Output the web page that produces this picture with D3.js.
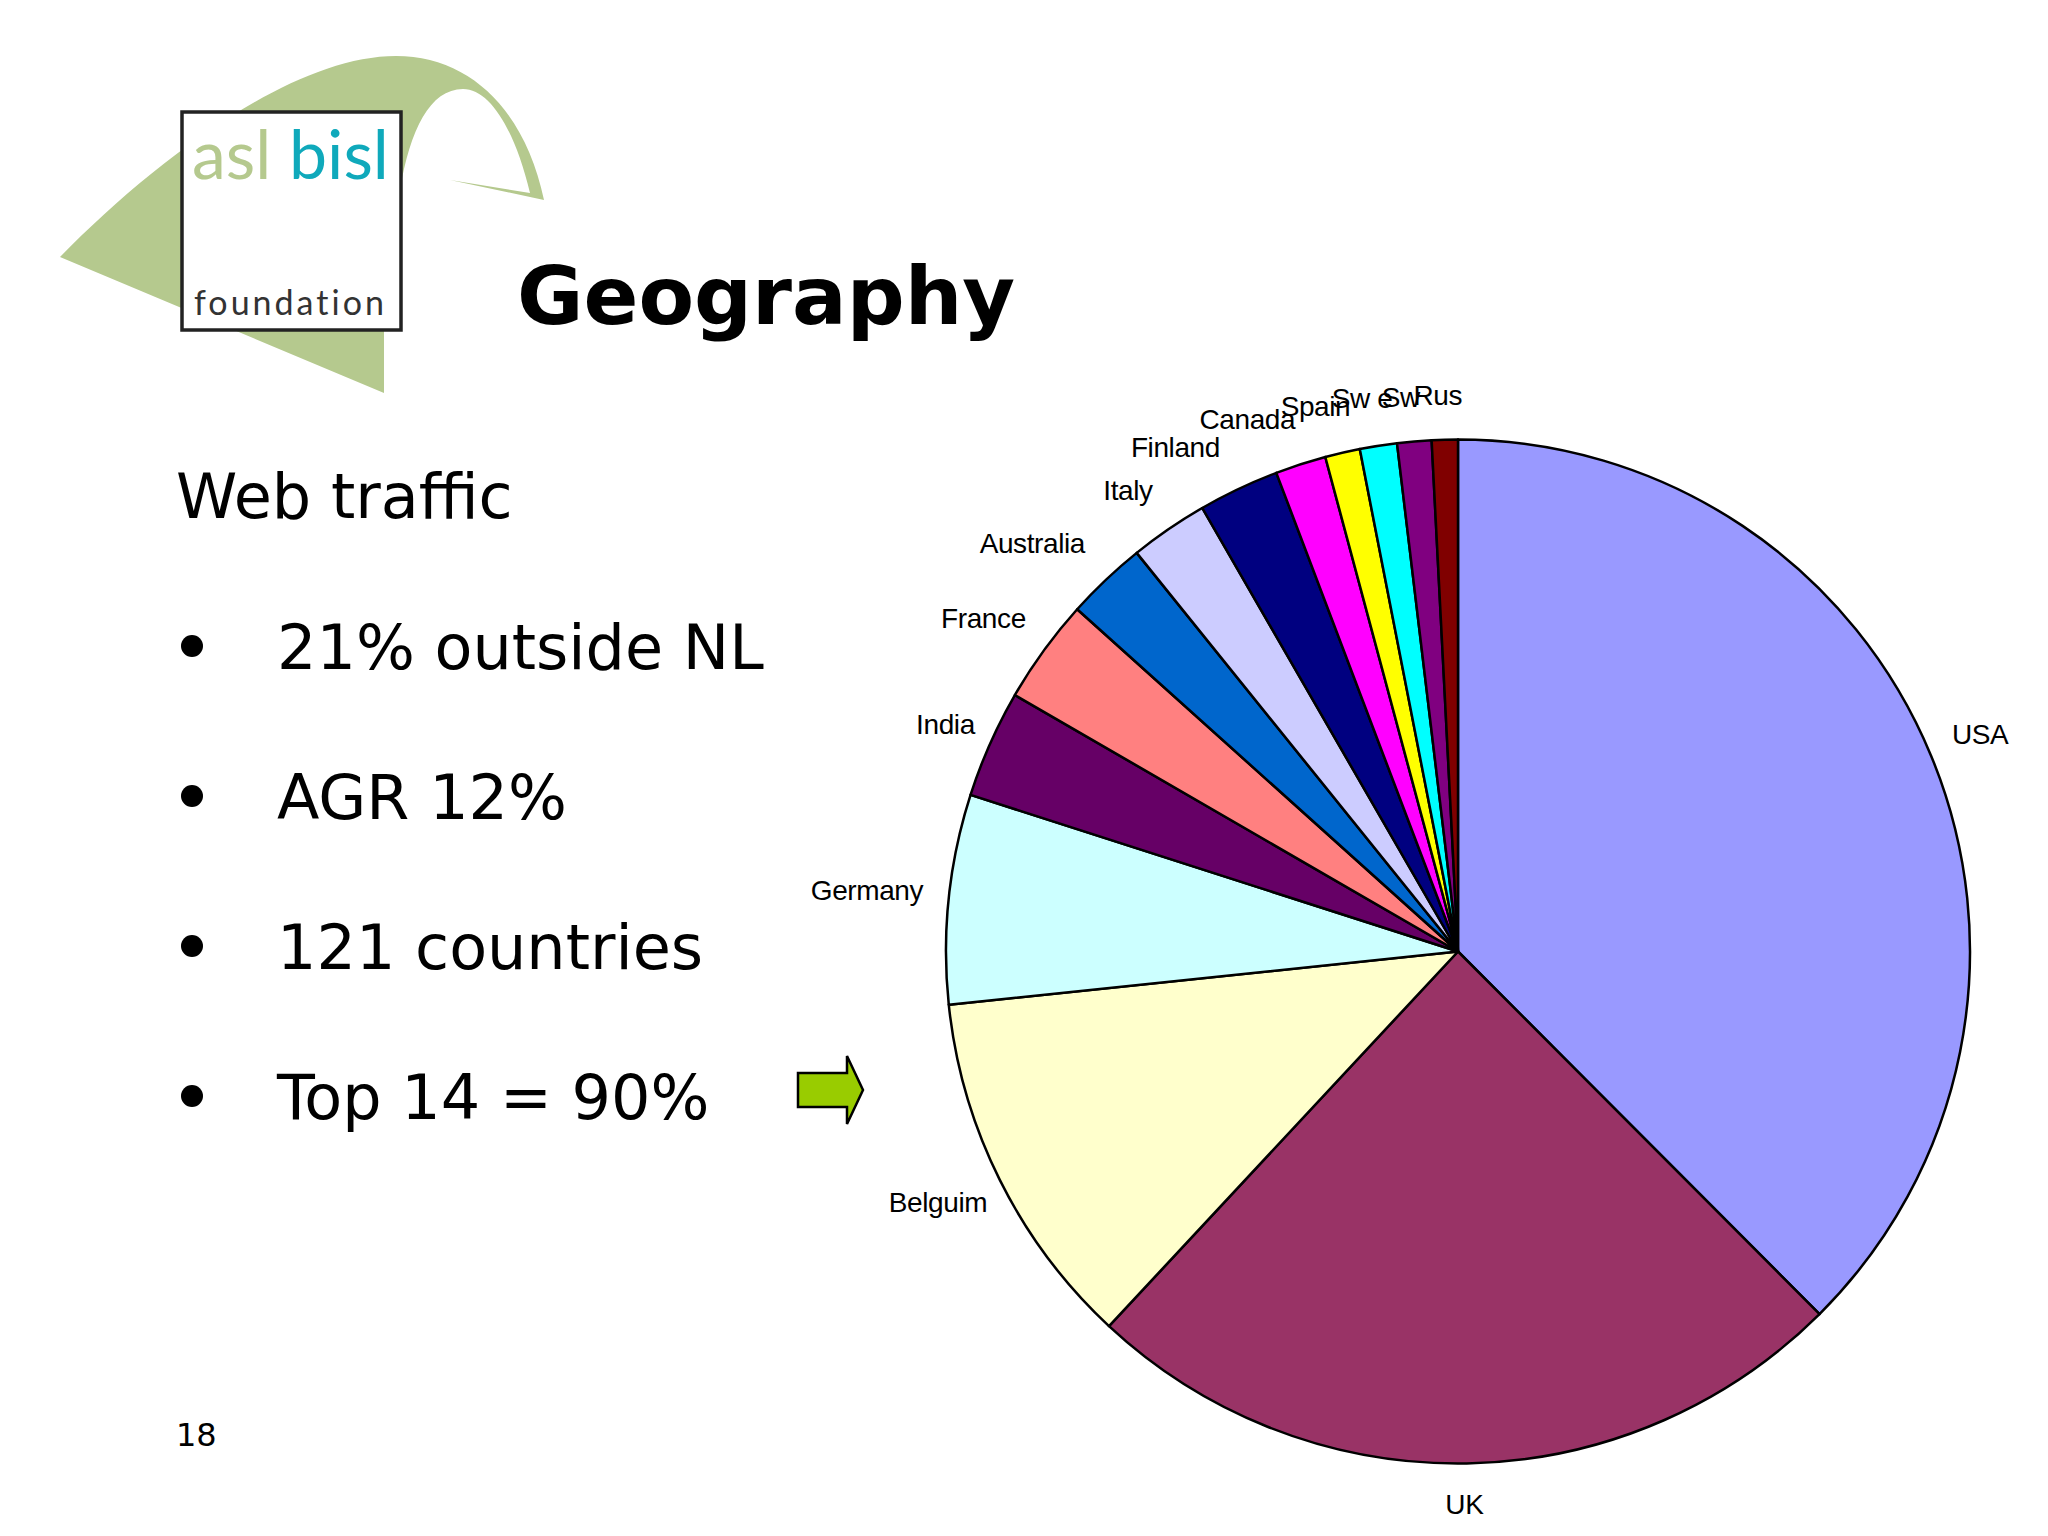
<!DOCTYPE html>
<html lang="en">
<head>
<meta charset="UTF-8">
<title>Geography</title>
<script src="https://cdn.jsdelivr.net/npm/d3@7"></script>
<style>
  body { margin: 0; background: #fff; }
  svg { display: block; }
</style>
</head>
<body>
<svg id="slide" width="2048" height="1536"></svg>
<script>
const countries = ["USA", "UK", "Belguim", "Germany", "India", "France", "Australia", "Italy", "Finland", "Canada", "Spain", "Sw e", "Sw", "Rus"];
const shares = [37.5, 24.4, 11.4, 6.6, 3.4, 3.3, 2.55, 2.47, 2.55, 1.6, 1.1, 1.17, 1.08, 0.82];
const colors = ["#9999ff", "#993366", "#ffffcc", "#ccffff", "#660066", "#ff8080", "#0066cc", "#ccccff", "#000080", "#ff00ff", "#ffff00", "#00ffff", "#800080", "#800000"];
const bullets = ["21% outside NL", "AGR 12%", "121 countries", "Top 14 = 90%"];

// label nudges away from the ring, same order as countries
const nudgeX = [12, -3, -26, -42, -8, -28, -46, -18, -46, -41, -18, -10, -10, -6];
const nudgeY = [-6, 1, 5, -4, -3, -9, -7, -6, -5, -7, -7, -8, -4, -4.5];

const svg = d3.select("#slide");
const bodyFont = "'DejaVu Sans', sans-serif";

// logo
const logoGreen = "#b5c98e";
svg.append("path")
    .attr("d", "M60,257 C150,165 290,56 396,56 C470,56 525,110 544,200 L450,180 L530,193 C515,130 490,89 463,89 C430,89 410,130 400,190 L384,332 L384,393 Z")
    .attr("fill", logoGreen);
svg.append("rect")
    .attr("x", 182).attr("y", 112).attr("width", 219).attr("height", 218)
    .attr("fill", "#fff").attr("stroke", "#222").attr("stroke-width", 3.5);
svg.append("text").attr("x", 192).attr("y", 179)
    .attr("font-family", "Lato").attr("font-size", 68).attr("fill", logoGreen).text("asl");
svg.append("text").attr("x", 289).attr("y", 179)
    .attr("font-family", "Lato").attr("font-size", 68).attr("fill", "#0fa9bb").text("bisl");
svg.append("text").attr("x", 194).attr("y", 315)
    .attr("font-family", "Lato").attr("font-size", 34).attr("letter-spacing", 3).attr("fill", "#333").text("foundation");

// title
svg.append("text").attr("x", 517).attr("y", 324)
    .attr("font-family", bodyFont).attr("font-weight", "bold").attr("font-size", 81).text("Geography");

// left column
svg.append("text").attr("x", 176).attr("y", 518)
    .attr("font-family", bodyFont).attr("font-size", 62).text("Web traffic");

const bulletY = d3.scalePoint().domain(bullets).range([669, 1119]);
const rows = svg.selectAll("g.row").data(bullets).join("g")
    .attr("class", "row")
    .attr("transform", d => `translate(0,${bulletY(d)})`);
rows.append("circle").attr("cx", 192).attr("cy", -23).attr("r", 11);
rows.append("text").attr("x", 277)
    .attr("font-family", bodyFont).attr("font-size", 62).text(d => d);

svg.append("text").attr("x", 176).attr("y", 1446)
    .attr("font-family", bodyFont).attr("font-size", 32).text("18");

// arrow pointing at the chart
svg.append("path")
    .attr("d", "M798,1073 H847 V1056 L863,1090 L847,1124 V1107 H798 Z")
    .attr("fill", "#99cc00").attr("stroke", "#000").attr("stroke-width", 2.5);

// pie
const radius = 512;
const pie = d3.pie().sort(null).value(d => d);
const arc = d3.arc().innerRadius(0).outerRadius(radius);
const labelArc = d3.arc().innerRadius(radius + 40).outerRadius(radius + 40);
const chart = svg.append("g").attr("transform", "translate(1458,951.5)");
const slices = pie(shares);

chart.selectAll("path").data(slices).join("path")
    .attr("d", arc)
    .attr("fill", (d, i) => colors[i])
    .attr("stroke", "#000")
    .attr("stroke-width", 2.5)
    .attr("stroke-linejoin", "round");

chart.selectAll("text").data(slices).join("text")
    .attr("transform", (d, i) => {
        const c = labelArc.centroid(d);
        return `translate(${c[0] + nudgeX[i]},${c[1] + nudgeY[i]})`;
    })
    .attr("text-anchor", "middle")
    .attr("dominant-baseline", "central")
    .attr("font-family", "'Liberation Sans', Arial, sans-serif")
    .attr("font-size", 28)
    .attr("letter-spacing", -0.4)
    .text((d, i) => countries[i]);
</script>
</body>
</html>
